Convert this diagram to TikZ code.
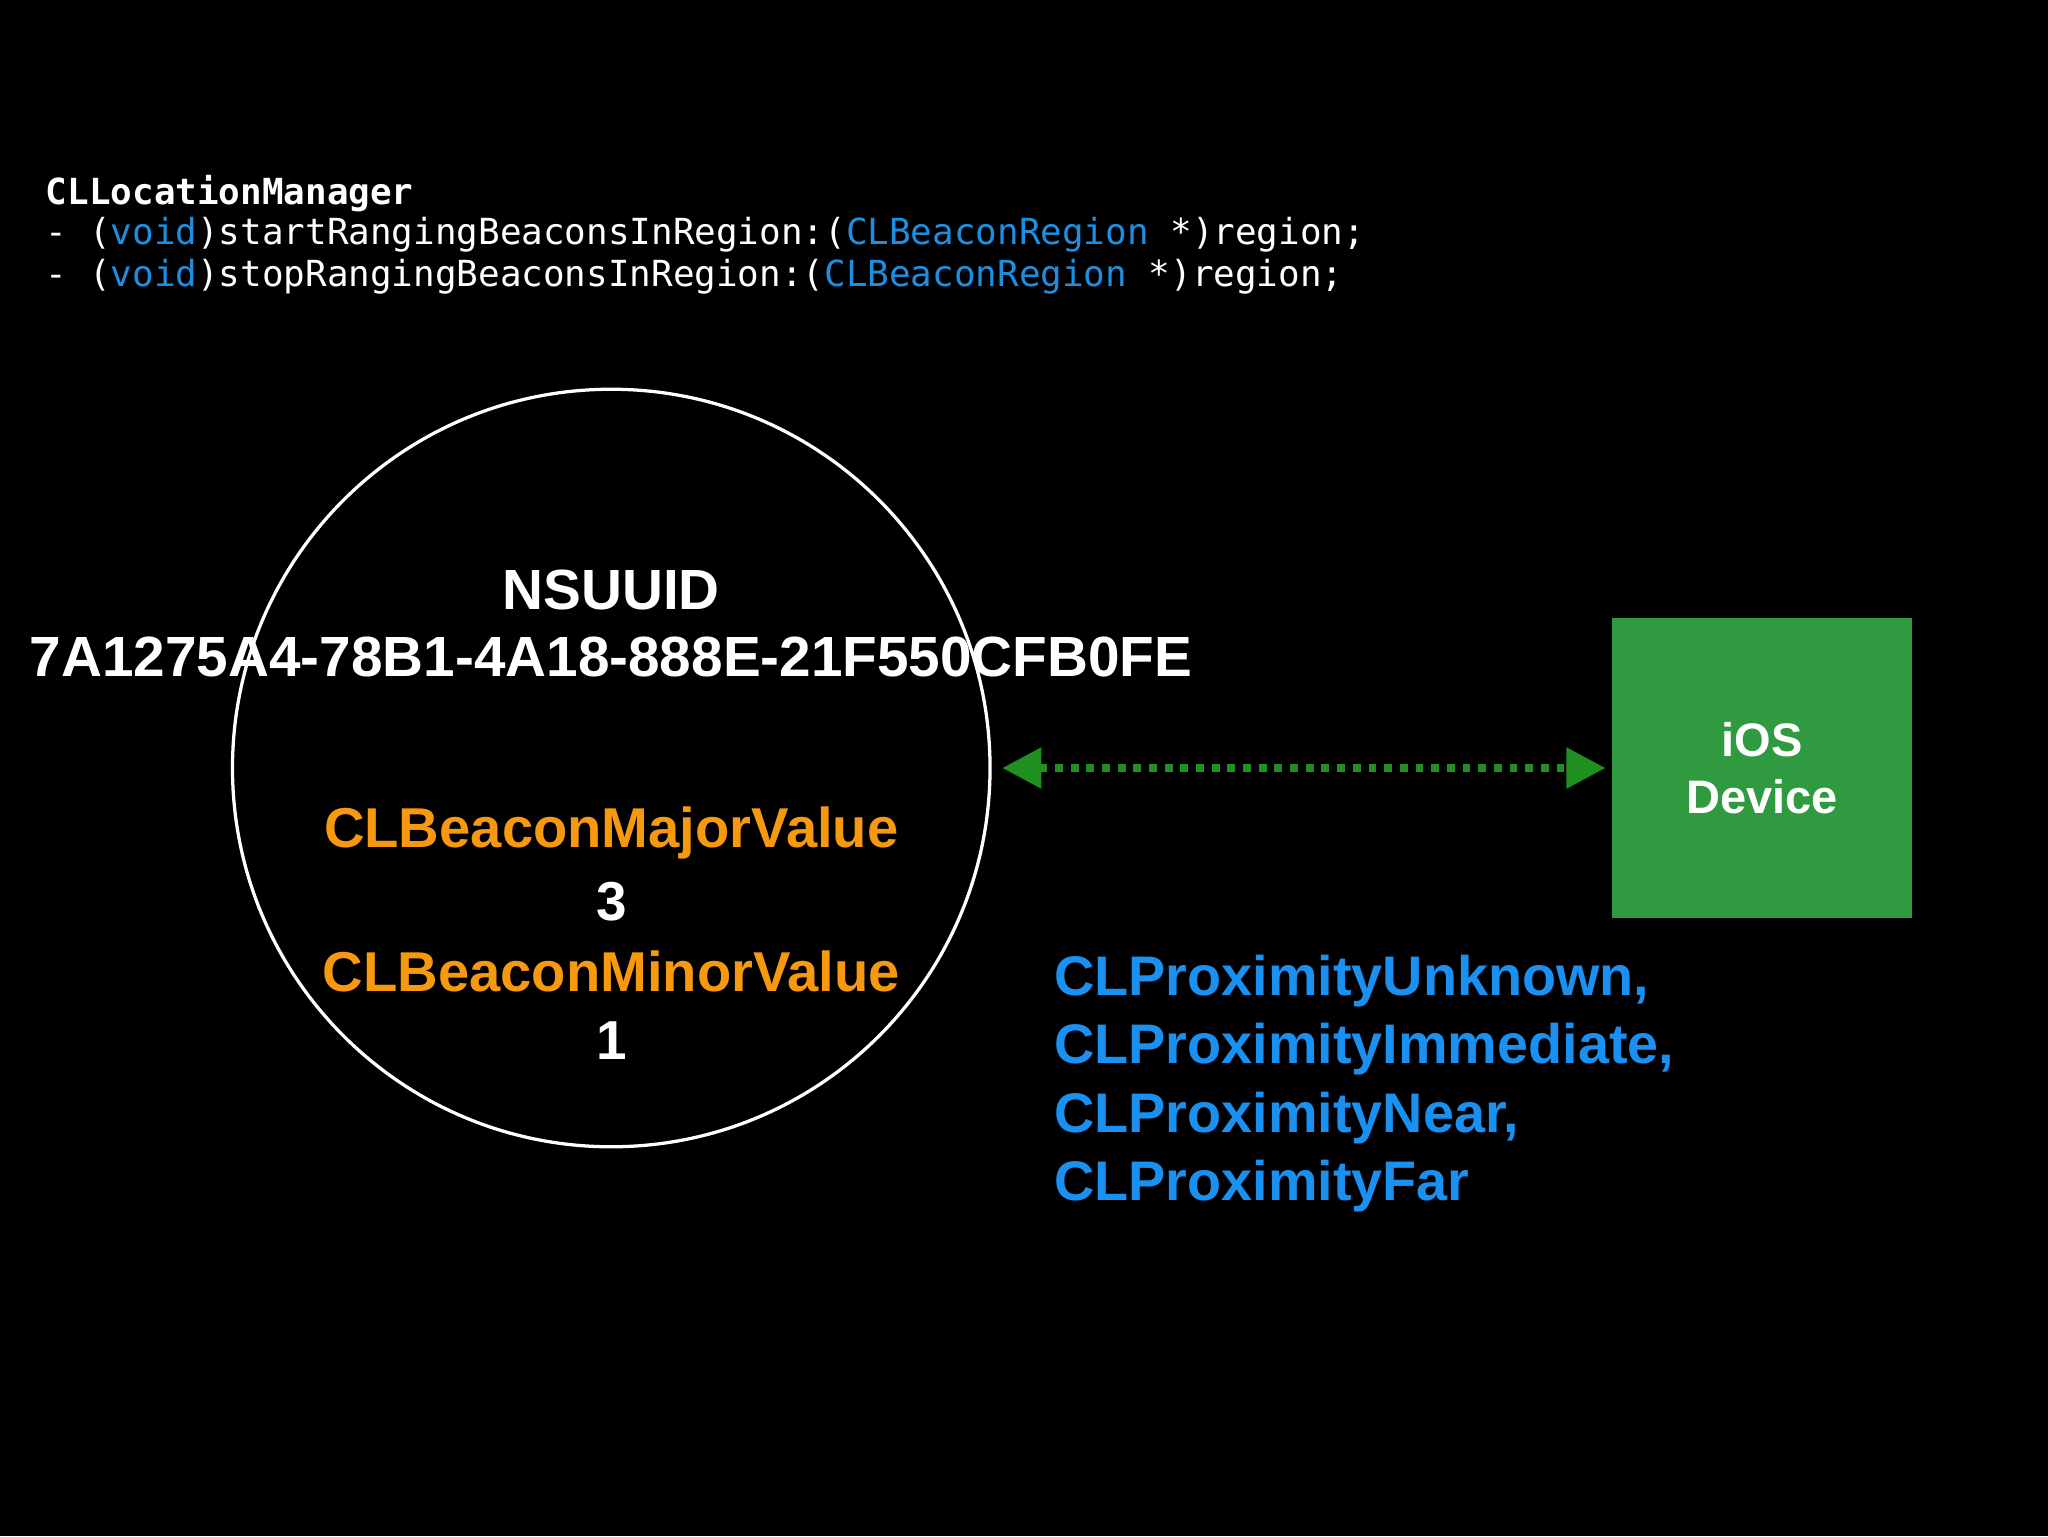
\documentclass[tikz,border=0pt]{standalone}
\usepackage{fontspec}
\setmainfont{Liberation Sans}
\setmonofont{DejaVu Sans Mono}
\usetikzlibrary{arrows.meta}
\definecolor{codeblue}{HTML}{1E8FE0}
\definecolor{orng}{HTML}{F7990F}
\definecolor{proxblue}{HTML}{1A90F0}
\definecolor{boxgreen}{HTML}{2F9A40}
\definecolor{arrgreen}{HTML}{1F8F1F}
\begin{document}
\begin{tikzpicture}[x=1pt,y=-1pt,
  code/.style={anchor=west,text=white,font=\fontsize{27.5}{32}\selectfont\ttfamily,inner sep=0},
  big/.style={text=white,font=\fontsize{43.4}{50}\selectfont\bfseries,inner sep=0},
  orange/.style={text=orng,font=\fontsize{43}{48}\selectfont\bfseries,inner sep=0},
  prox/.style={anchor=west,text=proxblue,font=\fontsize{42.7}{48}\selectfont\bfseries,inner sep=0}]
\fill[black] (0,0) rectangle (1568,1176);
\useasboundingbox (0,0) rectangle (1568,1176);
\node[code,font=\fontsize{27.5}{32}\selectfont\ttfamily\bfseries] (c0) at (35,148) {CLLocationManager};
\node[code] (c1) at (35,180) {- (\textcolor{codeblue}{void})startRangingBeaconsInRegion:(\textcolor{codeblue}{CLBeaconRegion} *)region;};
\node[code] (c2) at (35,212) {- (\textcolor{codeblue}{void})stopRangingBeaconsInRegion:(\textcolor{codeblue}{CLBeaconRegion} *)region;};
\node[circle,draw=white,line width=2.5pt,minimum size=580,inner sep=0] (reg) at (468,588) {};
\node[big] (ns) at (468,452) {NSUUID};
\node[big] (uuid) at (468,503) {7A1275A4-78B1-4A18-888E-21F550CFB0FE};
\node[orange] (maj) at (468,638) {CLBeaconMajorValue};
\node[big,font=\fontsize{42}{46}\selectfont\bfseries] (m3) at (468,690) {3};
\node[orange] (min) at (468,744) {CLBeaconMinorValue};
\node[big,font=\fontsize{42}{46}\selectfont\bfseries] (m1) at (468,797) {1};
\node[fill=boxgreen,minimum size=229,inner sep=0,align=center,text=white,font=\fontsize{36}{44}\selectfont\bfseries] (dev) at (1349,588) {iOS\\Device};
\draw[arrgreen,line width=6pt,dash pattern=on 6pt off 6pt,shorten <=8pt,shorten >=5pt,
  {Triangle[length=30pt,width=30pt]}-{Triangle[length=30pt,width=30pt]}] (reg.east) -- (dev.west);
\node[prox] (p1) at (807,751) {CLProximityUnknown,};
\node[prox] (p2) at (807,803) {CLProximityImmediate,};
\node[prox] (p3) at (807,856) {CLProximityNear,};
\node[prox] (p4) at (807,908) {CLProximityFar};
\end{tikzpicture}
\end{document}
